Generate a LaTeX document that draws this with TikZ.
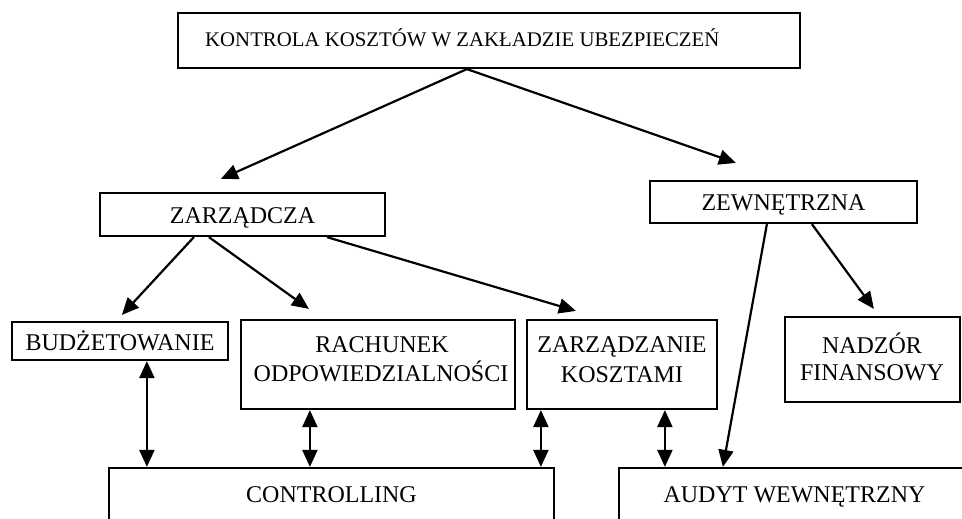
\documentclass[tikz,border=0pt]{standalone}
\usepackage{fontspec}
\setmainfont{Liberation Serif}
\usetikzlibrary{arrows.meta,calc}
\begin{document}
\begin{tikzpicture}[x=1pt,y=-1pt,
  box/.style={draw,line width=2.2pt,rectangle,inner sep=0pt},
  txt/.style={inner sep=0pt,anchor=base,font=\fontsize{24}{29}\selectfont},
  arr/.style={-{Triangle[length=17pt,width=15pt]},line width=2.2pt},
  darr/.style={{Triangle[length=17pt,width=15pt]}-{Triangle[length=17pt,width=15pt]},line width=2.2pt}]
\path[use as bounding box,clip] (0,0) rectangle (962,519);
\fill[white] (0,0) rectangle (962,519);
% boxes
\node[box,minimum width=622pt,minimum height=55pt] (top) at (489,40.5) {};
\node[box,minimum width=285pt,minimum height=43pt] (zar) at (242.5,214.5) {};
\node[box,minimum width=267pt,minimum height=42pt] (zew) at (783.5,202) {};
\node[box,minimum width=216pt,minimum height=38pt] (bud) at (120,341) {};
\node[box,minimum width=274pt,minimum height=89pt] (rach) at (378,364.5) {};
\node[box,minimum width=190pt,minimum height=89pt] (zarz) at (622,364.5) {};
\node[box,minimum width=175pt,minimum height=85pt] (nad) at (872.5,359.5) {};
\node[box,minimum width=445pt,minimum height=92pt] (ctrl) at (331.5,514) {};
\node[box,minimum width=381pt,minimum height=92pt] (aud) at (809.5,514) {};
% texts
\node[txt,anchor=base west,font=\fontsize{20.8}{25}\selectfont] (tTop) at (205,47) {KONTROLA KOSZTÓW W ZAKŁADZIE UBEZPIECZEŃ};
\node[txt] (tZar) at (242.5,223) {ZARZĄDCZA};
\node[txt] (tZew) at (783.5,210) {ZEWNĘTRZNA};
\node[txt] (tBud) at (120,350) {BUDŻETOWANIE};
\node[txt] (tRach1) at (382,352) {RACHUNEK};
\node[txt] (tRach2) at (381,381) {ODPOWIEDZIALNOŚCI};
\node[txt] (tZarz1) at (622,352) {ZARZĄDZANIE};
\node[txt] (tZarz2) at (622,382) {KOSZTAMI};
\node[txt] (tNad1) at (872,353) {NADZÓR};
\node[txt] (tNad2) at (872,380) {FINANSOWY};
\node[txt] (tCtrl) at (331.5,502) {CONTROLLING};
\node[txt] (tAud) at (794.5,502) {AUDYT WEWNĘTRZNY};
% connectors
\coordinate (s0) at ($(top.south west)+(290,0)$);
\draw[arr] (s0) -- ($(zar.north west)+(122,-13)$);
\draw[arr] (s0) -- ($(zew.north west)+(87,-17)$);
\draw[arr] ($(zar.south west)+(95,0)$) -- ($(bud.north west)+(111,-6)$);
\draw[arr] ($(zar.south west)+(110,0)$) -- ($(rach.north west)+(69,-10)$);
\draw[arr] ($(zar.south west)+(228,0)$) -- ($(zarz.north west)+(50,-8)$);
\draw[arr] ($(zew.south west)+(163,0)$) -- ($(nad.north west)+(90,-7)$);
\draw[arr] ($(zew.south west)+(118,0)$) -- ($(aud.north west)+(105,0)$);
\draw[darr] ($(bud.south west)+(136,0)$) -- ($(ctrl.north west)+(39,0)$);
\draw[darr] ($(rach.south west)+(70,0)$) -- ($(ctrl.north west)+(202,0)$);
\draw[darr] ($(zarz.south west)+(15,0)$) -- ($(ctrl.north west)+(433,0)$);
\draw[darr] ($(zarz.south west)+(139,0)$) -- ($(aud.north west)+(47,0)$);
\end{tikzpicture}
\end{document}
